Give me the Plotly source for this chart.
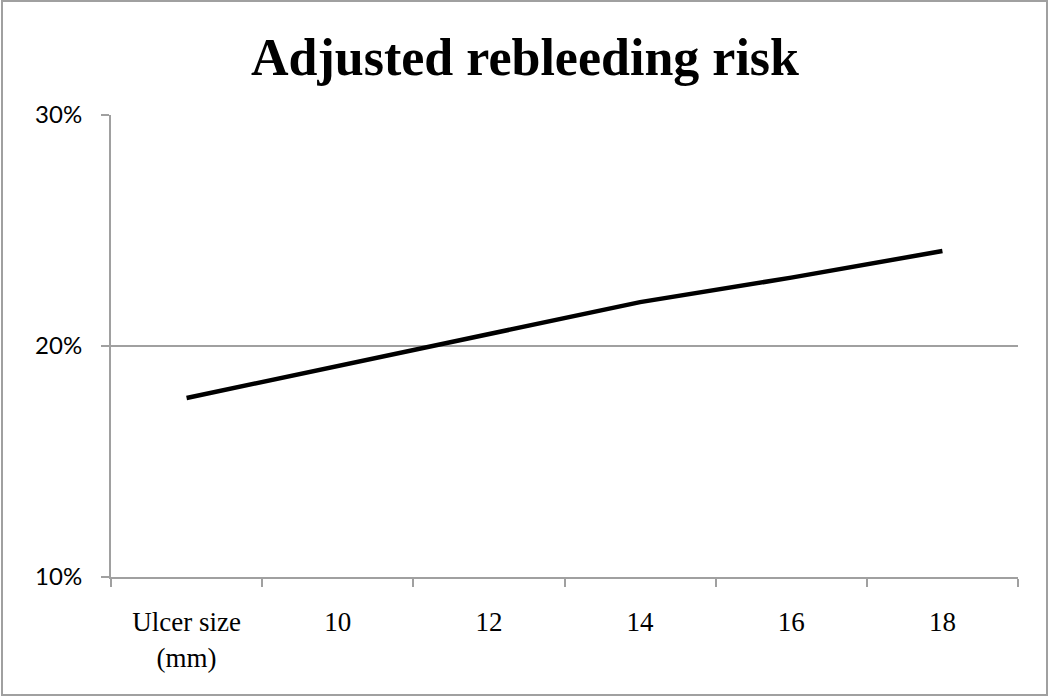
import plotly.graph_objects as go

categories = ["Ulcer size<br>(mm)", "10", "12", "14", "16", "18"]
risk = [0.1775, 0.1913, 0.2050, 0.2190, 0.2296, 0.2411]
y_ticks = [0.10, 0.20, 0.30]
y_tick_labels = ["10%", "20%", "30%"]

fig = go.Figure()
fig.add_trace(go.Scatter(
    x=categories, y=risk, mode="lines",
    line=dict(color="black", width=4.5),
    hoverinfo="skip", showlegend=False,
))

L, R, T, B = 111, 32, 115, 121
W, H = 1050, 698
pw, ph = W - L - R, H - T - B

fig.update_layout(
    width=W, height=H,
    margin=dict(l=L, r=R, t=T, b=B),
    paper_bgcolor="white", plot_bgcolor="white",
    title=dict(text="<b>Adjusted rebleeding risk</b>", x=0.5, xanchor="center",
               y=1 - 57 / H, yanchor="middle",
               font=dict(family="Liberation Serif", size=52, color="black")),
    xaxis=dict(type="category", tickson="boundaries", showgrid=False,
               showline=True, linecolor="#a0a0a0", linewidth=2,
               ticks="outside", ticklen=8, tickwidth=2, tickcolor="#a0a0a0",
               tickfont=dict(family="Liberation Serif", size=27, color="black"),
               ticklabelstandoff=20, range=[-0.5, 5.5], fixedrange=True),
    yaxis=dict(range=[0.10, 0.30], tickvals=y_ticks, ticktext=y_tick_labels,
               showgrid=True, gridcolor="#a0a0a0", gridwidth=2,
               showline=True, linecolor="#a0a0a0", linewidth=2,
               ticks="outside", ticklen=8, tickwidth=2, tickcolor="#a0a0a0",
               tickfont=dict(family="Lato", size=24, color="black"),
               ticklabelstandoff=14, zeroline=False, fixedrange=True),
    shapes=[dict(type="rect", xref="paper", yref="paper",
                 x0=(2 - L) / pw, x1=(1047 - L) / pw,
                 y0=(H - B - 695) / ph, y1=(H - B - 1) / ph,
                 line=dict(color="#a0a0a0", width=2), layer="below")],
)

fig.write_html("out.html", config={"displayModeBar": False},
               post_script="document.body.style.margin='0';document.body.style.padding='0';")
